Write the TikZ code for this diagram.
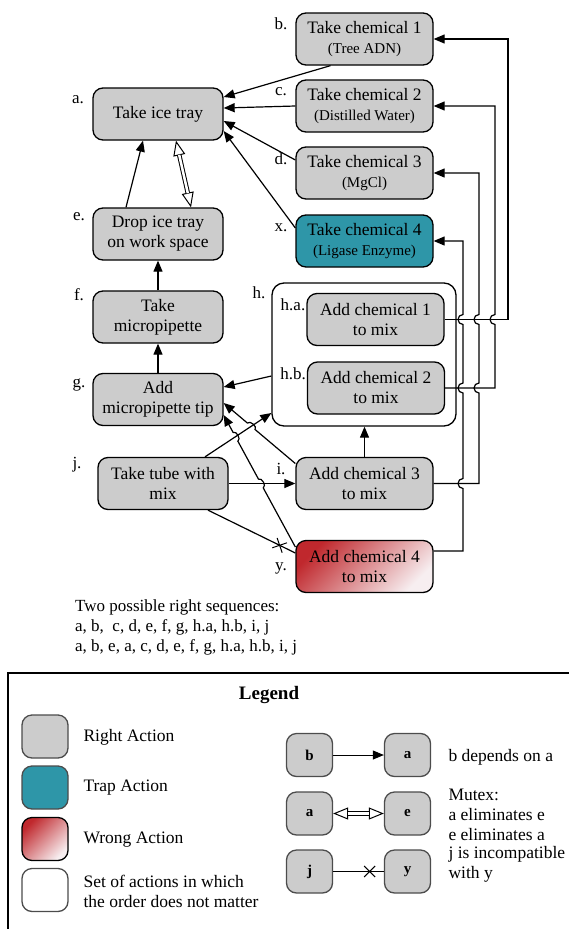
\documentclass[tikz,border=0pt]{standalone}
\usepackage{fontspec}
\setmainfont{Liberation Serif}
\usepackage{tikz}
\usetikzlibrary{arrows.meta, calc, shapes.misc}

\definecolor{rightgray}{HTML}{CCCCCC}
\definecolor{trapteal}{HTML}{2E96A8}
\definecolor{wrongdark}{HTML}{C0282D}
\definecolor{wronglight}{HTML}{F7EEF0}

\newcommand\subline[1]{{\fontsize{15}{17}\selectfont #1}}

\begin{document}
\begin{tikzpicture}[x=1pt, y=-1pt, font=\rmfamily\fontsize{17.5}{20}\selectfont,
                    >={Triangle[length=11pt,width=9pt]}]
        % Setup the styles for the actions
        \tikzset{action/.style={rectangle,
                                rounded corners=10pt,
                                draw,
                                line width=1.3pt,
                                minimum width=137pt,
                                minimum height=52pt,
                                inner sep=2pt,
                                align=center,
                                font=\rmfamily\fontsize{17.5}{20}\selectfont,
                                fill=rightgray},
                 short action/.style={action, minimum width=130pt},
                 trap action/.style={action, fill=trapteal},
                 wrong action/.style={action, top color=wrongdark, bottom color=wronglight, shading angle=45},
                 set box/.style={rectangle, rounded corners=12pt, draw, line width=1.3pt,
                                 minimum width=184pt, minimum height=143pt},
                 letter/.style={inner sep=0pt, font=\rmfamily\fontsize{17}{20}\selectfont},
                 key box/.style={rectangle, rounded corners=10pt, draw=black!70, line width=1.3pt,
                                 minimum width=46pt, minimum height=43pt, fill=rightgray,
                                 font=\rmfamily\bfseries\fontsize{15}{17}\selectfont},
                 dep/.style={->, line width=1.2pt},
                 mutex/.style={line width=1pt,
                               {Triangle[open,length=15pt,width=12pt]}-{Triangle[open,length=15pt,width=12pt]},
                               postaction={draw, arrows=-, double, double distance=2.5pt, line width=1pt,
                                           shorten <=14.5pt, shorten >=14.5pt}},
                 cutmark/.style={cross out, draw, line width=1pt, minimum size=10pt, inner sep=0pt}}

        \useasboundingbox (0,0) rectangle (569,929);
        \clip (0,0) rectangle (569,929);

        % Draw the actions
        \node[short action] at (158,114)   (tray)    {Take ice tray};
        \node[action]       at (364.5,39)  (chem1)   {Take chemical 1\\\subline{(Tree ADN)}};
        \node[action]       at (364.5,106) (chem2)   {Take chemical 2\\\subline{(Distilled Water)}};
        \node[action]       at (364.5,173) (chem3)   {Take chemical 3\\\subline{(MgCl)}};
        \node[trap action]  at (364.5,241) (chem4)   {Take chemical 4\\\subline{(Ligase Enzyme)}};
        \node[short action] at (158,234)   (drop)    {Drop ice tray\\on work space};
        \node[short action] at (158,317)   (pipette) {Take\\micropipette};
        \node[short action] at (158,399.5) (tip)     {Add\\micropipette tip};
        \node[set box]      at (364,354.5) (mixset)  {};
        \node[action]       at (375.5,319.5) (add1)  {Add chemical 1\\to mix};
        \node[action]       at (376,388)   (add2)    {Add chemical 2\\to mix};
        \node[action]       at (364.5,483.5) (add3)  {Add chemical 3\\to mix};
        \node[wrong action] at (364.5,566.5) (add4)  {Add chemical 4\\to mix};
        \node[short action] at (163,483.5) (tube)    {Take tube with\\mix};

        % Letters of the actions
        \node[letter] at (78,100)  (lbla)  {a.};
        \node[letter] at (281,24)  (lblb)  {b.};
        \node[letter] at (281,92)  (lblc)  {c.};
        \node[letter] at (281,159) (lbld)  {d.};
        \node[letter] at (281,228) (lblx)  {x.};
        \node[letter] at (79,217)  (lble)  {e.};
        \node[letter] at (79,295)  (lblf)  {f.};
        \node[letter] at (79,385)  (lblg)  {g.};
        \node[letter] at (259,293) (lblh)  {h.};
        \node[letter] at (293,305) (lblha) {h.a.};
        \node[letter] at (293,374) (lblhb) {h.b.};
        \node[letter] at (77,465)  (lblj)  {j.};
        \node[letter] at (281,469) (lbli)  {i.};
        \node[letter] at (281,568) (lbly)  {y.};

        % Connect the actions with arrows
        \draw[dep] ([xshift=-34pt]chem1.south) -- ([yshift=17pt]tray.east);
        \draw[dep] (chem2.west) -- ([yshift=6pt]tray.east);
        \draw[dep] ([yshift=13pt]chem3.west) -- ([yshift=-7pt]tray.east);
        \draw[dep] ([yshift=13pt]chem4.west) -- ([yshift=-17pt]tray.east);
        \draw[dep] ([xshift=-32pt]drop.north) -- ([xshift=-15pt]tray.south);
        \draw[mutex] ([xshift=18pt]tray.south) -- ([xshift=33pt]drop.north);
        \draw[dep] (pipette.north) -- (drop.south);
        \draw[dep] (tip.north) -- (pipette.south);
        \draw[dep] ([yshift=-21.5pt]mixset.west) -- ([yshift=12.5pt]tip.east);
        \draw[dep] (add3.north) -- (add3.north |- mixset.south);
        \draw[dep] (tube.east) -- (add3.west);

        % Lines that jump over other lines
        \coordinate (s3) at ([yshift=20pt]add3.west);
        \coordinate (t3) at ([yshift=-3.5pt]tip.east);
        \coordinate (s4) at ([yshift=19.5pt]add4.west);
        \coordinate (t4) at ([yshift=-15.5pt]tip.east);
        \coordinate (sj) at ([xshift=42pt]tube.north);
        \coordinate (tj) at ([yshift=-58.5pt]mixset.west);
        \draw[dep] (sj) -- (tj);
        \coordinate (x1) at (intersection of s3--t3 and sj--tj);
        \coordinate (x2) at (intersection of s4--t4 and tube.east--add3.west);
        \coordinate (x3) at (intersection of s4--t4 and sj--tj);
        \draw[dep] (s3) -- ($(x1)!5pt!(s3)$) to[bend right=90] ($(x1)!5pt!(t3)$) -- (t3);
        \draw[dep] (s4) -- ($(x2)!5pt!(s4)$) to[bend right=90] ($(x2)!5pt!(t4)$)
                        -- ($(x3)!5pt!(s4)$) to[bend right=90] ($(x3)!5pt!(t4)$) -- (t4);
        \draw[line width=1.2pt] ([xshift=45pt]tube.south)
            -- node[cutmark, pos=0.82, sloped] (cutjy) {} ([yshift=13.5pt]add4.west);

        % Right side lines
        \draw[dep] (add1.east) -- (508,319.5) -- (508,39) -- (chem1.east);
        \draw[dep] (add2.east) -- (495,388)
            -- (495,324.5) arc[start angle=270, end angle=90, radius=5pt]
            -- (495,106) -- (chem2.east);
        \draw[dep] (add3.east) -- (479,483.5)
            -- (479,393) arc[start angle=270, end angle=90, radius=5pt]
            -- (479,324.5) arc[start angle=270, end angle=90, radius=5pt]
            -- (479,173) -- (chem3.east);
        \draw[dep] ([yshift=15.5pt]add4.east) -- (463,551)
            -- (463,488.5) arc[start angle=270, end angle=90, radius=5pt]
            -- (463,393) arc[start angle=270, end angle=90, radius=5pt]
            -- (463,324.5) arc[start angle=270, end angle=90, radius=5pt]
            -- (463,241) -- (chem4.east);

        % Sequences
        \node[anchor=north west, align=left, inner sep=0pt, font=\rmfamily\fontsize{17}{20}\selectfont]
            at (75,599) (sequences)
            {Two possible right sequences:\\
             a, b,\ \ c, d, e, f, g, h.a, h.b, i, j\\
             a, b, e, a, c, d, e, f, g, h.a, h.b, i, j};

        % Legend
        \draw[line width=1.3pt] (600,673) -- (8,673) -- (8,960);
        \node[font=\rmfamily\bfseries\fontsize{19}{22}\selectfont] at (269,695) (legendtitle) {Legend};

        \node[key box] at (45,736.5) (keyright) {};
        \node[key box, fill=trapteal] at (45,787.5) (keytrap) {};
        \node[key box, top color=wrongdark, bottom color=wronglight, shading angle=45,
              draw=black] at (45,839) (keywrong) {};
        \node[key box, fill=white] at (45,890) (keyset) {};
        \node[anchor=west] at (80,737) (txtright) {Right Action};
        \node[anchor=west] at (80,788) (txttrap)  {Trap Action};
        \node[anchor=west] at (80,840) (txtwrong) {Wrong Action};
        \node[anchor=west, align=left] at (80,891) (txtset)
            {Set of actions in which\\the order does not matter};

        \node[key box] at (309.5,755)   (keyb)  {b};
        \node[key box] at (407.5,755)   (keya)  {a};
        \node[key box] at (309.5,813.5) (keya2) {a};
        \node[key box] at (407.5,813.5) (keye)  {e};
        \node[key box] at (309.5,871.5) (keyj)  {j};
        \node[key box] at (407.5,871.5) (keyy)  {y};
        \draw[dep, line width=1pt] (keyb) -- (keya);
        \draw[mutex] (keya2) -- (keye);
        \draw[line width=1pt] (keyj) -- node[cutmark, pos=0.72] (cutkey) {} (keyy);

        \node[anchor=west] at (445,757) (txtdep) {b depends on a};
        \node[anchor=west, align=left] at (445,815) (txtmutex)
            {Mutex:\\a eliminates e\\e eliminates a};
        \node[anchor=west, align=left] at (445,864) (txtcut)
            {j is incompatible\\with y};
\end{tikzpicture}
\end{document}
